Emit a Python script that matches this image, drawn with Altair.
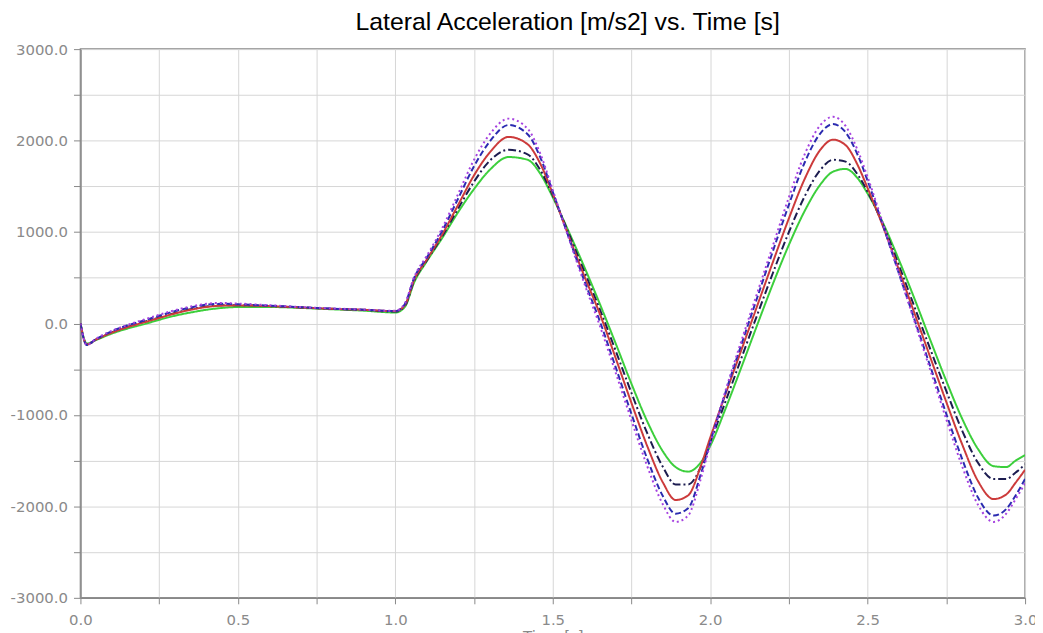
import altair as alt
import pandas as pd

# Time samples [s]
T = [0.0, 0.02, 0.05, 0.1, 0.15, 0.2, 0.25, 0.3, 0.35, 0.4, 0.45, 0.5, 0.6, 0.7, 0.8, 0.9, 1.0,
     1.03, 1.06, 1.1, 1.15, 1.2, 1.25, 1.3, 1.36, 1.42, 1.46, 1.5, 1.55, 1.6, 1.65, 1.7, 1.75,
     1.8, 1.85, 1.89, 1.93, 1.97, 2.0, 2.05, 2.1, 2.15, 2.2, 2.25, 2.3, 2.35, 2.39, 2.43, 2.47,
     2.5, 2.55, 2.6, 2.65, 2.7, 2.75, 2.8, 2.85, 2.9, 2.94, 2.97, 3.0]

green = [0, -220, -180, -110, -55, -10, 40, 85, 120, 150, 170, 180, 180, 170, 155, 140, 120,
         180, 450, 680, 940, 1220, 1470, 1680, 1820, 1790, 1640, 1380, 1010, 620, 210, -220, -660,
         -1070, -1400, -1570, -1620, -1520, -1340, -920, -470, -10, 440, 860, 1230, 1520, 1660, 1690, 1580,
         1420, 1090, 690, 260, -190, -630, -1040, -1370, -1560, -1570, -1500, -1440]

navy = [0, -230, -175, -95, -35, 15, 65, 115, 155, 185, 200, 200, 190, 175, 160, 148, 130,
        190, 470, 690, 960, 1260, 1550, 1780, 1900, 1850, 1680, 1400, 990, 570, 150, -300, -760,
        -1200, -1570, -1760, -1760, -1570, -1300, -840, -370, 100, 560, 1000, 1390, 1680, 1790, 1770, 1620,
        1440, 1070, 630, 170, -290, -740, -1170, -1520, -1700, -1700, -1630, -1540]

red = [0, -230, -175, -100, -40, 10, 60, 110, 150, 180, 195, 198, 190, 175, 160, 150, 135,
       200, 480, 700, 980, 1300, 1620, 1870, 2040, 1960, 1750, 1420, 960, 520, 100, -380, -870,
       -1340, -1740, -1930, -1880, -1560, -1250, -760, -280, 200, 680, 1150, 1580, 1900, 2010, 1950, 1720,
       1480, 1050, 580, 100, -380, -860, -1320, -1720, -1920, -1870, -1740, -1600]

blue = [0, -235, -170, -85, -20, 30, 85, 135, 175, 205, 215, 210, 195, 178, 162, 150, 135,
        210, 500, 720, 1020, 1370, 1720, 1990, 2170, 2070, 1820, 1440, 950, 470, 20, -480, -990,
        -1480, -1890, -2080, -2020, -1650, -1300, -740, -220, 290, 800, 1300, 1760, 2080, 2180, 2090, 1830,
        1560, 1060, 540, 30, -480, -990, -1480, -1900, -2100, -2030, -1880, -1700]

purple = [0, -235, -165, -80, -15, 40, 95, 145, 185, 215, 225, 218, 200, 180, 165, 152, 138,
          220, 510, 740, 1050, 1420, 1790, 2070, 2240, 2130, 1860, 1460, 940, 440, -30, -540, -1060,
          -1560, -1980, -2170, -2100, -1700, -1320, -720, -180, 340, 860, 1380, 1850, 2170, 2260, 2160, 1880,
          1600, 1080, 540, 10, -520, -1050, -1560, -1980, -2170, -2080, -1920, -1750]

series_names = ["Case 1", "Case 2", "Case 3", "Case 4", "Case 5"]
series_values = [green, navy, red, blue, purple]
series_colors = ["#3ccf3c", "#1c1c50", "#cc3b3b", "#2b2bb0", "#a642e0"]
series_dashes = [[1, 0], [8, 3, 2, 3], [1, 0], [6, 3], [2, 3]]

rows = []
for name, vals in zip(series_names, series_values):
    for t, v in zip(T, vals):
        rows.append({"time": t, "acc": v, "series": name})
df = pd.DataFrame(rows)

x_ticks = [i * 0.25 for i in range(13)]
y_ticks = [-3000 + i * 500 for i in range(13)]

chart = alt.Chart(df).mark_line(strokeWidth=2, interpolate="monotone", clip=True).encode(
    x=alt.X("time:Q",
            scale=alt.Scale(domain=[0, 3], nice=False, zero=False),
            axis=alt.Axis(values=x_ticks,
                          labelExpr="datum.value % 0.5 == 0 ? format(datum.value, '.1f') : ''",
                          labelFlush=False,
                          title="Time [s]", titleFontSize=15, titleColor="#888888",
                          titleFont="DejaVu Sans", titleFontWeight="normal", titlePadding=1,
                          tickSize=6, labelPadding=9)),
    y=alt.Y("acc:Q",
            scale=alt.Scale(domain=[-3000, 3000], nice=False),
            axis=alt.Axis(values=y_ticks,
                          labelExpr="datum.value % 1000 == 0 ? replace(format(datum.value, '.1f'), '\u2212', '-') : ''",
                          title=None, tickSize=7, labelPadding=6)),
    color=alt.Color("series:N", scale=alt.Scale(domain=series_names, range=series_colors), legend=None),
    strokeDash=alt.StrokeDash("series:N", scale=alt.Scale(domain=series_names, range=series_dashes), legend=None),
    order=alt.Order("series:N"),
).properties(
    width=952,
    height=553,
    title=alt.TitleParams("Lateral Acceleration [m/s2] vs. Time [s]", fontSize=25,
                          font="Liberation Sans", fontWeight="normal", color="#000000",
                          anchor="middle", frame="group", dx=15, offset=7),
    autosize=alt.AutoSizeParams(type="none"),
    padding={"left": 73, "top": 39, "right": 10, "bottom": 33},
).configure_view(
    stroke="#888888", strokeWidth=1.5
).configure_axis(
    domainColor="#888888", domainWidth=1.5, tickColor="#888888",
    gridColor="#d6d6d6", gridWidth=1,
    labelColor="#8a8a8a", labelFont="DejaVu Sans", labelFontSize=15,
)

chart.save("out.html", embed_options={"renderer": "svg", "actions": False})
